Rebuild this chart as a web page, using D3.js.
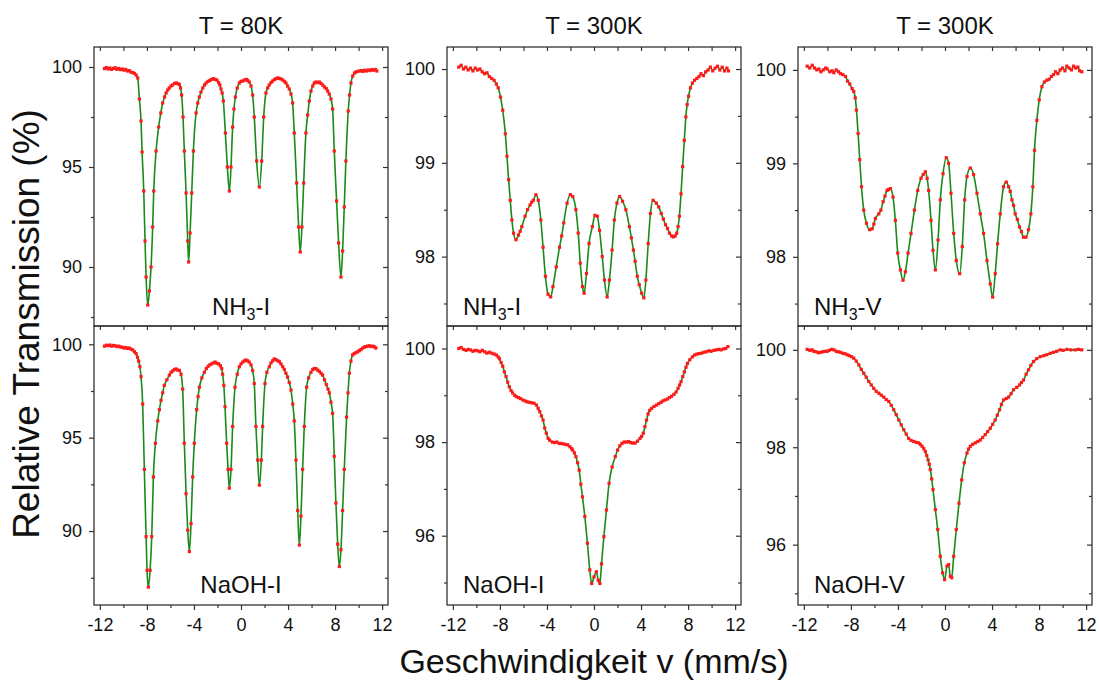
<!DOCTYPE html>
<html>
<head>
<meta charset="utf-8">
<script src="https://cdn.jsdelivr.net/npm/d3@7"></script>
<style>
  body { margin: 0; background: #fff; }
  text { font-family: "Liberation Sans", Arial, sans-serif; fill: #111; }
</style>
</head>
<body>
<div id="chart"></div>
<script>
// Mössbauer spectra, [v (mm/s), relative transmission (%)]
const spec80NH3I = [
  [-11.61,99.92],[-11.45,99.97],[-11.3,99.9],[-11.15,99.95],[-11.0,99.88],[-10.85,99.93],[-10.7,99.96],
  [-10.55,99.88],[-10.4,99.93],[-10.25,99.87],[-10.1,99.9],[-9.95,99.84],[-9.8,99.88],[-9.65,99.8],
  [-9.5,99.82],[-9.35,99.74],[-9.21,99.72],[-9.06,99.68],[-8.92,99.6],[-8.78,99.45],[-8.64,98.4],
  [-8.5,97.3],[-8.41,95.75],[-8.27,93.8],[-8.16,91.3],[-8.07,89.5],[-7.93,88.1],[-7.79,88.8],[-7.65,90.0],
  [-7.51,92.0],[-7.42,93.8],[-7.22,95.8],[-7.0,97.0],[-6.82,97.7],[-6.66,98.2],[-6.5,98.5],[-6.37,98.7],
  [-6.23,98.85],[-6.1,98.95],[-5.95,99.05],[-5.81,99.1],[-5.65,99.18],[-5.5,99.2],[-5.37,99.17],
  [-5.24,99.12],[-5.14,98.95],[-5.05,98.6],[-4.93,97.5],[-4.82,95.8],[-4.67,93.7],[-4.53,91.3],
  [-4.45,90.25],[-4.33,91.7],[-4.19,93.7],[-4.05,95.8],[-3.82,97.7],[-3.68,98.2],[-3.54,98.5],
  [-3.4,98.75],[-3.25,98.95],[-3.1,99.1],[-2.97,99.2],[-2.8,99.28],[-2.65,99.33],[-2.5,99.38],
  [-2.35,99.42],[-2.2,99.38],[-2.05,99.35],[-1.9,99.22],[-1.8,99.1],[-1.7,98.9],[-1.6,98.7],[-1.5,98.3],
  [-1.33,96.7],[-1.16,95.0],[-0.99,93.8],[-0.85,95.0],[-0.71,97.0],[-0.6,97.9],[-0.48,98.5],[-0.32,98.95],
  [-0.14,99.2],[0.0,99.28],[0.15,99.3],[0.3,99.35],[0.45,99.38],[0.57,99.33],[0.7,99.25],[0.85,99.05],
  [0.99,98.6],[1.13,97.5],[1.33,95.3],[1.56,94.0],[1.76,95.3],[1.93,97.5],[2.12,98.7],[2.27,98.95],
  [2.4,99.1],[2.55,99.22],[2.69,99.3],[2.85,99.38],[3.0,99.42],[3.13,99.45],[3.26,99.43],[3.4,99.4],
  [3.55,99.35],[3.7,99.28],[3.82,99.2],[3.96,99.05],[4.1,98.9],[4.25,98.65],[4.39,98.2],[4.53,96.7],
  [4.73,94.2],[4.9,92.0],[5.04,90.75],[5.18,92.0],[5.33,94.2],[5.52,96.7],[5.67,97.6],[5.81,98.3],
  [5.95,98.8],[6.1,99.05],[6.23,99.2],[6.38,99.25],[6.52,99.22],[6.66,99.25],[6.8,99.18],[6.95,99.1],
  [7.1,99.0],[7.25,98.92],[7.37,98.8],[7.5,98.65],[7.65,98.4],[7.79,97.9],[7.93,95.8],[8.13,93.3],
  [8.3,91.2],[8.5,89.5],[8.64,90.8],[8.78,93.0],[8.92,95.3],[9.12,97.8],[9.23,98.6],[9.35,99.2],
  [9.5,99.55],[9.65,99.7],[9.77,99.75],[9.92,99.78],[10.07,99.8],[10.22,99.82],[10.37,99.78],[10.52,99.84],
  [10.67,99.8],[10.82,99.85],[10.97,99.82],[11.12,99.87],[11.27,99.84],[11.42,99.88],[11.55,99.8]
];

const spec80NaOHI = [
  [-11.61,99.9],[-11.45,99.95],[-11.3,99.93],[-11.15,99.96],[-11.0,99.9],[-10.85,99.94],[-10.7,99.92],
  [-10.55,99.88],[-10.4,99.9],[-10.25,99.86],[-10.1,99.84],[-9.95,99.8],[-9.8,99.83],[-9.65,99.78],
  [-9.5,99.8],[-9.35,99.74],[-9.21,99.7],[-9.06,99.6],[-8.92,99.5],[-8.8,99.3],[-8.7,99.1],[-8.6,98.8],
  [-8.5,98.27],[-8.36,96.8],[-8.22,93.3],[-8.07,89.7],[-7.99,87.9],[-7.88,87.0],[-7.73,87.9],[-7.59,89.7],
  [-7.45,92.9],[-7.28,94.7],[-7.08,95.9],[-6.94,96.5],[-6.8,97.0],[-6.66,97.4],[-6.52,97.8],[-6.3,98.1],
  [-6.09,98.35],[-5.95,98.5],[-5.8,98.58],[-5.66,98.65],[-5.52,98.68],[-5.38,98.62],[-5.24,98.6],
  [-5.1,98.4],[-4.96,97.6],[-4.82,94.7],[-4.67,92.0],[-4.53,90.05],[-4.39,88.9],[-4.25,90.4],[-4.11,92.9],
  [-3.97,94.7],[-3.77,96.5],[-3.65,97.2],[-3.54,97.7],[-3.33,98.2],[-3.12,98.5],[-2.95,98.7],[-2.8,98.82],
  [-2.65,98.9],[-2.5,98.95],[-2.35,99.0],[-2.2,99.05],[-2.05,98.98],[-1.9,98.95],[-1.75,98.85],
  [-1.64,98.7],[-1.56,98.4],[-1.46,97.8],[-1.36,96.66],[-1.22,94.7],[-1.1,93.3],[-0.99,92.3],[-0.85,93.3],
  [-0.71,95.6],[-0.51,97.7],[-0.32,98.4],[-0.14,98.8],[0.0,98.95],[0.15,99.05],[0.3,99.12],[0.42,99.16],
  [0.55,99.12],[0.7,99.05],[0.85,98.9],[0.99,98.6],[1.13,97.9],[1.27,95.6],[1.42,93.8],[1.56,92.46],
  [1.73,93.8],[1.84,95.6],[2.04,97.9],[2.2,98.5],[2.41,98.8],[2.55,99.0],[2.7,99.12],[2.83,99.22],
  [2.97,99.18],[3.12,99.12],[3.26,99.07],[3.4,98.95],[3.55,98.8],[3.68,98.65],[3.82,98.45],[3.96,98.25],
  [4.1,97.95],[4.25,97.55],[4.4,96.8],[4.53,95.9],[4.67,93.8],[4.82,91.1],[4.96,89.25],[5.1,90.8],
  [5.24,93.3],[5.38,95.6],[5.58,97.7],[5.75,98.2],[5.95,98.5],[6.1,98.65],[6.23,98.7],[6.37,98.7],
  [6.52,98.62],[6.66,98.55],[6.8,98.45],[6.94,98.35],[7.1,98.1],[7.25,97.85],[7.4,97.6],[7.51,97.4],
  [7.65,96.9],[7.79,96.3],[7.93,94.0],[8.07,91.5],[8.22,89.3],[8.36,88.1],[8.5,89.0],[8.64,91.1],
  [8.78,93.3],[8.98,96.1],[9.1,97.4],[9.21,98.45],[9.35,99.1],[9.49,99.43],[9.63,99.5],[9.77,99.55],
  [9.92,99.6],[10.06,99.66],[10.2,99.72],[10.35,99.8],[10.5,99.85],[10.62,99.88],[10.77,99.9],
  [10.92,99.92],[11.07,99.88],[11.22,99.9],[11.35,99.86],[11.47,99.8]
];

const spec300NH3I = [
  [-11.5,100.02],[-11.3,100.04],[-11.1,100.0],[-10.9,100.02],[-10.7,99.99],[-10.5,100.01],[-10.3,99.98],
  [-10.1,100.01],[-9.9,99.99],[-9.7,100.0],[-9.5,99.97],[-9.3,99.95],[-9.1,99.96],[-8.9,99.92],
  [-8.7,99.9],[-8.5,99.88],[-8.3,99.84],[-8.15,99.8],[-7.95,99.7],[-7.76,99.56],[-7.54,99.31],
  [-7.4,99.07],[-7.26,98.82],[-7.12,98.6],[-6.98,98.39],[-6.84,98.25],[-6.64,98.18],[-6.42,98.23],
  [-6.28,98.27],[-6.14,98.32],[-5.86,98.43],[-5.65,98.5],[-5.44,98.55],[-5.3,98.58],[-5.16,98.6],
  [-4.94,98.66],[-4.74,98.6],[-4.52,98.39],[-4.33,98.1],[-4.13,97.79],[-3.91,97.6],[-3.68,97.57],
  [-3.49,97.68],[-3.21,97.89],[-2.93,98.1],[-2.75,98.22],[-2.57,98.36],[-2.29,98.57],[-2.01,98.66],
  [-1.81,98.64],[-1.54,98.5],[-1.34,98.25],[-1.17,97.93],[-0.98,97.68],[-0.84,97.61],[-0.64,97.82],
  [-0.42,98.14],[-0.14,98.32],[0.08,98.44],[0.28,98.43],[0.47,98.28],[0.7,98.0],[0.89,97.75],
  [1.12,97.57],[1.31,97.75],[1.54,98.07],[1.73,98.39],[1.95,98.57],[2.18,98.64],[2.43,98.59],
  [2.71,98.5],[3.01,98.32],[3.18,98.2],[3.35,98.07],[3.5,97.95],[3.68,97.79],[3.85,97.7],[4.05,97.61],
  [4.24,97.56],[4.41,97.75],[4.61,98.14],[4.8,98.46],[5.02,98.6],[5.3,98.57],[5.5,98.53],[5.72,98.46],
  [5.9,98.4],[6.08,98.34],[6.25,98.3],[6.42,98.25],[6.6,98.22],[6.75,98.21],[6.9,98.22],[7.03,98.25],
  [7.15,98.32],[7.26,98.43],[7.4,98.67],[7.54,98.96],[7.68,99.24],[7.81,99.49],[7.92,99.62],[8.04,99.71],
  [8.2,99.8],[8.37,99.85],[8.55,99.88],[8.75,99.9],[8.93,99.92],[9.1,99.95],[9.3,99.93],[9.5,99.97],
  [9.7,99.99],[9.9,100.02],[10.1,99.98],[10.3,100.01],[10.5,100.03],[10.7,99.99],[10.9,100.02],
  [11.1,99.98],[11.3,100.01],[11.44,99.98]
];

const spec300NH3V = [
  [-11.72,100.04],[-11.5,100.02],[-11.29,100.05],[-11.1,100.02],[-10.9,100.0],[-10.73,100.01],
  [-10.55,99.98],[-10.35,100.0],[-10.15,100.02],[-10.02,100.01],[-9.8,99.98],[-9.6,99.99],[-9.45,99.97],
  [-9.25,100.0],[-9.05,99.98],[-8.89,99.96],[-8.7,99.95],[-8.46,99.93],[-8.28,99.88],[-8.1,99.85],
  [-7.9,99.8],[-7.76,99.77],[-7.63,99.7],[-7.53,99.57],[-7.39,99.32],[-7.25,99.04],[-7.1,98.75],
  [-6.91,98.5],[-6.68,98.36],[-6.4,98.29],[-6.2,98.3],[-6.05,98.35],[-5.92,98.41],[-5.63,98.46],
  [-5.45,98.5],[-5.26,98.59],[-5.1,98.65],[-4.93,98.71],[-4.8,98.72],[-4.64,98.73],[-4.42,98.64],
  [-4.22,98.39],[-4.02,98.04],[-3.79,97.86],[-3.57,97.75],[-3.37,97.84],[-3.14,98.04],[-2.89,98.25],
  [-2.6,98.5],[-2.32,98.71],[-2.04,98.84],[-1.85,98.88],[-1.67,98.91],[-1.52,98.84],[-1.39,98.71],
  [-1.19,98.39],[-1.02,98.07],[-0.82,97.86],[-0.59,98.18],[-0.4,98.61],[-0.17,98.89],[0.11,99.06],
  [0.31,99.0],[0.51,98.68],[0.74,98.25],[0.96,97.96],[1.25,97.82],[1.47,98.11],[1.67,98.61],[1.87,98.86],
  [2.15,98.95],[2.43,98.88],[2.72,98.68],[3.0,98.46],[3.28,98.25],[3.57,97.96],[3.85,97.71],[4.05,97.57],
  [4.27,97.82],[4.47,98.14],[4.7,98.46],[4.98,98.75],[5.21,98.8],[5.41,98.75],[5.55,98.7],[5.69,98.61],
  [5.83,98.55],[5.97,98.46],[6.15,98.4],[6.34,98.32],[6.5,98.27],[6.68,98.21],[6.88,98.21],[7.1,98.29],
  [7.3,98.46],[7.47,98.75],[7.61,99.14],[7.81,99.46],[8.01,99.68],[8.24,99.82],[8.45,99.87],[8.66,99.89],
  [8.85,99.9],[9.05,99.93],[9.23,99.95],[9.4,99.98],[9.6,99.96],[9.79,100.0],[10.0,100.02],[10.2,99.99],
  [10.36,100.04],[10.55,100.02],[10.75,100.0],[10.93,100.04],[11.1,100.02],[11.3,100.03],[11.45,99.99],[11.63,99.98]
];

const spec300NaOHI = [
  [-11.5,100.0],[-11.3,100.02],[-11.1,99.98],[-10.88,99.96],[-10.7,99.98],[-10.5,99.97],[-10.3,99.94],
  [-10.1,99.96],[-9.9,99.95],[-9.7,99.93],[-9.5,99.96],[-9.3,99.93],[-9.1,99.9],[-8.9,99.92],[-8.7,99.9],
  [-8.5,99.88],[-8.3,99.86],[-8.15,99.82],[-8.04,99.78],[-7.9,99.7],[-7.76,99.62],[-7.62,99.5],
  [-7.48,99.4],[-7.34,99.28],[-7.2,99.18],[-7.05,99.1],[-6.92,99.05],[-6.75,99.0],[-6.6,98.97],
  [-6.42,98.95],[-6.25,98.93],[-6.05,98.9],[-5.86,98.88],[-5.7,98.86],[-5.5,98.85],[-5.3,98.84],
  [-5.1,98.83],[-4.89,98.79],[-4.75,98.72],[-4.61,98.65],[-4.47,98.56],[-4.33,98.47],[-4.19,98.3],
  [-4.05,98.19],[-3.9,98.08],[-3.77,98.04],[-3.55,98.0],[-3.35,97.99],[-3.15,98.0],[-2.95,97.97],
  [-2.79,97.97],[-2.6,97.96],[-2.4,97.95],[-2.23,97.94],[-2.05,97.9],[-1.9,97.86],[-1.81,97.83],
  [-1.67,97.77],[-1.54,97.69],[-1.4,97.56],[-1.26,97.4],[-1.12,97.1],[-0.98,96.83],[-0.78,96.41],
  [-0.56,95.84],[-0.36,95.27],[-0.2,94.98],[0.0,95.12],[0.2,95.23],[0.36,95.05],[0.5,94.98],[0.64,95.4],
  [0.84,95.98],[1.06,96.55],[1.28,97.12],[1.54,97.47],[1.81,97.69],[2.01,97.83],[2.2,97.92],[2.37,97.97],
  [2.55,98.0],[2.75,98.0],[2.93,98.01],[3.1,97.99],[3.3,97.98],[3.49,97.98],[3.7,98.02],[3.91,98.08],
  [4.05,98.12],[4.19,98.19],[4.33,98.33],[4.47,98.47],[4.6,98.6],[4.74,98.68],[4.9,98.72],[5.1,98.76],
  [5.3,98.79],[5.5,98.82],[5.7,98.85],[5.86,98.88],[6.05,98.9],[6.25,98.92],[6.42,98.95],[6.6,98.98],
  [6.8,99.02],[6.98,99.07],[7.15,99.15],[7.28,99.22],[7.4,99.29],[7.55,99.4],[7.68,99.5],[7.82,99.6],
  [7.95,99.68],[8.15,99.76],[8.37,99.82],[8.55,99.86],[8.75,99.88],[8.93,99.89],[9.15,99.9],[9.35,99.92],
  [9.55,99.93],[9.77,99.95],[9.95,99.94],[10.2,99.96],[10.4,99.97],[10.61,99.98],[10.8,99.97],
  [11.0,99.99],[11.2,100.0],[11.39,100.04]
];

const spec300NaOHV = [
  [-11.72,100.01],[-11.5,99.99],[-11.3,100.0],[-11.15,99.97],[-10.95,99.96],[-10.77,99.94],[-10.59,99.95],
  [-10.4,99.96],[-10.2,99.97],[-10.02,99.97],[-9.85,99.99],[-9.65,100.01],[-9.45,100.0],[-9.25,99.97],
  [-9.07,99.96],[-8.89,99.95],[-8.7,99.93],[-8.5,99.92],[-8.32,99.9],[-8.15,99.88],[-7.95,99.86],
  [-7.76,99.83],[-7.55,99.77],[-7.33,99.69],[-7.12,99.6],[-6.91,99.52],[-6.7,99.44],[-6.48,99.35],
  [-6.27,99.28],[-6.06,99.21],[-5.85,99.15],[-5.63,99.11],[-5.42,99.07],[-5.21,99.03],[-5.0,98.98],
  [-4.78,98.94],[-4.57,98.86],[-4.36,98.77],[-4.15,98.67],[-3.93,98.56],[-3.72,98.46],[-3.51,98.36],
  [-3.3,98.27],[-3.09,98.18],[-2.88,98.14],[-2.66,98.12],[-2.45,98.1],[-2.24,98.09],[-2.1,98.06],
  [-1.95,98.02],[-1.8,97.97],[-1.67,97.91],[-1.55,97.83],[-1.44,97.74],[-1.34,97.65],[-1.25,97.54],
  [-1.13,97.35],[-1.02,97.13],[-0.82,96.72],[-0.62,96.31],[-0.4,95.76],[-0.2,95.42],[-0.03,95.28],
  [0.17,95.56],[0.31,95.59],[0.45,95.35],[0.57,95.32],[0.74,95.76],[0.96,96.31],[1.19,96.85],[1.42,97.33],
  [1.64,97.68],[1.87,97.88],[2.0,97.96],[2.15,98.02],[2.35,98.06],[2.58,98.09],[2.8,98.12],[3.0,98.15],
  [3.2,98.2],[3.42,98.26],[3.63,98.32],[3.85,98.39],[4.05,98.47],[4.27,98.56],[4.45,98.66],[4.64,98.77],
  [4.8,98.88],[4.98,98.97],[5.2,99.0],[5.41,99.03],[5.62,99.1],[5.83,99.18],[6.1,99.23],[6.34,99.28],
  [6.5,99.33],[6.68,99.38],[6.9,99.5],[7.1,99.59],[7.3,99.68],[7.53,99.76],[7.8,99.82],[8.1,99.86],
  [8.4,99.88],[8.66,99.9],[8.95,99.93],[9.23,99.95],[9.5,99.97],[9.79,100.0],[10.05,99.99],[10.36,100.01],
  [10.7,100.0],[11.07,100.0],[11.35,100.01],[11.63,100.0]
];

const titles = ["T = 80K", "T = 300K", "T = 300K"];
const xMajor = [-12, -8, -4, 0, 4, 8, 12];
const xMinor = [-10, -6, -2, 2, 6, 10];
const yMajor80 = [90, 95, 100], yMinor80 = [87.5, 92.5, 97.5];
const yMajorNH3 = [98, 99, 100], yMinorNH3 = [97.5, 98.5, 99.5];
const yMajorNaOH = [96, 98, 100], yMinorNaOH = [95, 97, 99];

const panels = [
  { col: 0, row: 0, data: spec80NH3I,   y: [87.05, 101],     major: yMajor80,   minor: yMinor80,   label: ["NH", "3", "-I"] },
  { col: 0, row: 1, data: spec80NaOHI,  y: [86.04, 100.98],  major: yMajor80,   minor: yMinor80,   label: ["NaOH-I"] },
  { col: 1, row: 0, data: spec300NH3I,  y: [97.26, 100.235], major: yMajorNH3,  minor: yMinorNH3,  label: ["NH", "3", "-I"] },
  { col: 1, row: 1, data: spec300NaOHI, y: [94.52, 100.48],  major: yMajorNaOH, minor: yMinorNaOH, label: ["NaOH-I"] },
  { col: 2, row: 0, data: spec300NH3V,  y: [97.26, 100.245], major: yMajorNH3,  minor: yMinorNH3,  label: ["NH", "3", "-V"] },
  { col: 2, row: 1, data: spec300NaOHV, y: [94.76, 100.49],  major: yMajorNaOH, minor: yMinorNaOH, label: ["NaOH-V"] }
];

const W = 1099, H = 682;
const colX = [94, 447, 798], rowY = [47, 326];
const pw = 294, ph = 279;

const svg = d3.select("#chart").append("svg")
  .attr("width", W).attr("height", H);

const x = d3.scaleLinear().domain([-12.5, 12.5]).range([0, pw]);

panels.forEach((p, i) => {
  const g = svg.append("g")
    .attr("transform", `translate(${colX[p.col]},${rowY[p.row]})`);
  const y = d3.scaleLinear().domain(p.y).range([ph, 0]);

  g.append("clipPath").attr("id", "clip" + i)
    .append("rect").attr("width", pw).attr("height", ph);

  const plot = g.append("g").attr("clip-path", `url(#clip${i})`);

  // fit line
  plot.append("path")
    .datum(p.data)
    .attr("fill", "none")
    .attr("stroke", "#1a8a1a")
    .attr("stroke-width", 1.6)
    .attr("d", d3.line().x(d => x(d[0])).y(d => y(d[1])).curve(d3.curveMonotoneX));

  // data points
  plot.selectAll("rect.pt")
    .data(p.data)
    .enter().append("rect")
    .attr("class", "pt")
    .attr("x", d => x(d[0]) - 1.6)
    .attr("y", d => y(d[1]) - 1.6)
    .attr("width", 3.2).attr("height", 3.2)
    .attr("fill", "#ff1a1a");

  // axes
  const styleAxis = sel => {
    sel.select(".domain").remove();
    sel.selectAll(".tick line").attr("stroke", "#333").attr("stroke-width", 1.2);
    sel.selectAll("text").style("font-size", "18px").attr("fill", "#111")
      .style("font-family", '"Liberation Sans", Arial, sans-serif');
  };
  const fmt = d => String(d);

  g.append("g").call(d3.axisLeft(y).tickValues(p.major).tickSize(5).tickPadding(7).tickFormat(fmt)).call(styleAxis);
  g.append("g").call(d3.axisLeft(y).tickValues(p.minor).tickSize(3).tickFormat("")).call(styleAxis);
  g.append("g").attr("transform", `translate(${pw},0)`)
    .call(d3.axisRight(y).tickValues(p.major).tickSize(-5).tickFormat("")).call(styleAxis);
  g.append("g").attr("transform", `translate(${pw},0)`)
    .call(d3.axisRight(y).tickValues(p.minor).tickSize(-3).tickFormat("")).call(styleAxis);
  g.append("g")
    .call(d3.axisTop(x).tickValues(xMajor.concat(xMinor)).tickSize(-4).tickFormat("")).call(styleAxis);

  if (p.row === 1) {
    g.append("g").attr("transform", `translate(0,${ph})`)
      .call(d3.axisBottom(x).tickValues(xMajor).tickSize(5).tickPadding(8).tickFormat(fmt)).call(styleAxis);
    g.append("g").attr("transform", `translate(0,${ph})`)
      .call(d3.axisBottom(x).tickValues(xMinor).tickSize(3).tickFormat("")).call(styleAxis);
  }

  // frame
  g.append("rect")
    .attr("width", pw).attr("height", ph)
    .attr("fill", "none").attr("stroke", "#333").attr("stroke-width", 1.3);

  // sample label
  const lab = g.append("text")
    .attr("y", p.row === 0 ? 268 : 267)
    .style("font-size", "24px");
  if (p.col === 0) lab.attr("x", pw / 2).attr("text-anchor", "middle");
  else lab.attr("x", 16);
  lab.append("tspan").text(p.label[0]);
  if (p.label.length > 1) {
    lab.append("tspan").attr("dy", 5).style("font-size", "16px").text(p.label[1]);
    lab.append("tspan").attr("dy", -5).text(p.label[2]);
  }
});

// column titles
svg.selectAll("text.title")
  .data(titles)
  .enter().append("text")
  .attr("class", "title")
  .attr("x", (d, i) => colX[i] + pw / 2)
  .attr("y", 34)
  .attr("text-anchor", "middle")
  .style("font-size", "24px")
  .text(d => d);

// axis titles
svg.append("text")
  .attr("transform", `translate(39,324) rotate(-90)`)
  .attr("text-anchor", "middle")
  .style("font-size", "37px")
  .text("Relative Transmission (%)");

svg.append("text")
  .attr("x", colX[1] + pw / 2)
  .attr("y", 673)
  .attr("text-anchor", "middle")
  .style("font-size", "34px")
  .text("Geschwindigkeit v (mm/s)");
</script>
</body>
</html>
